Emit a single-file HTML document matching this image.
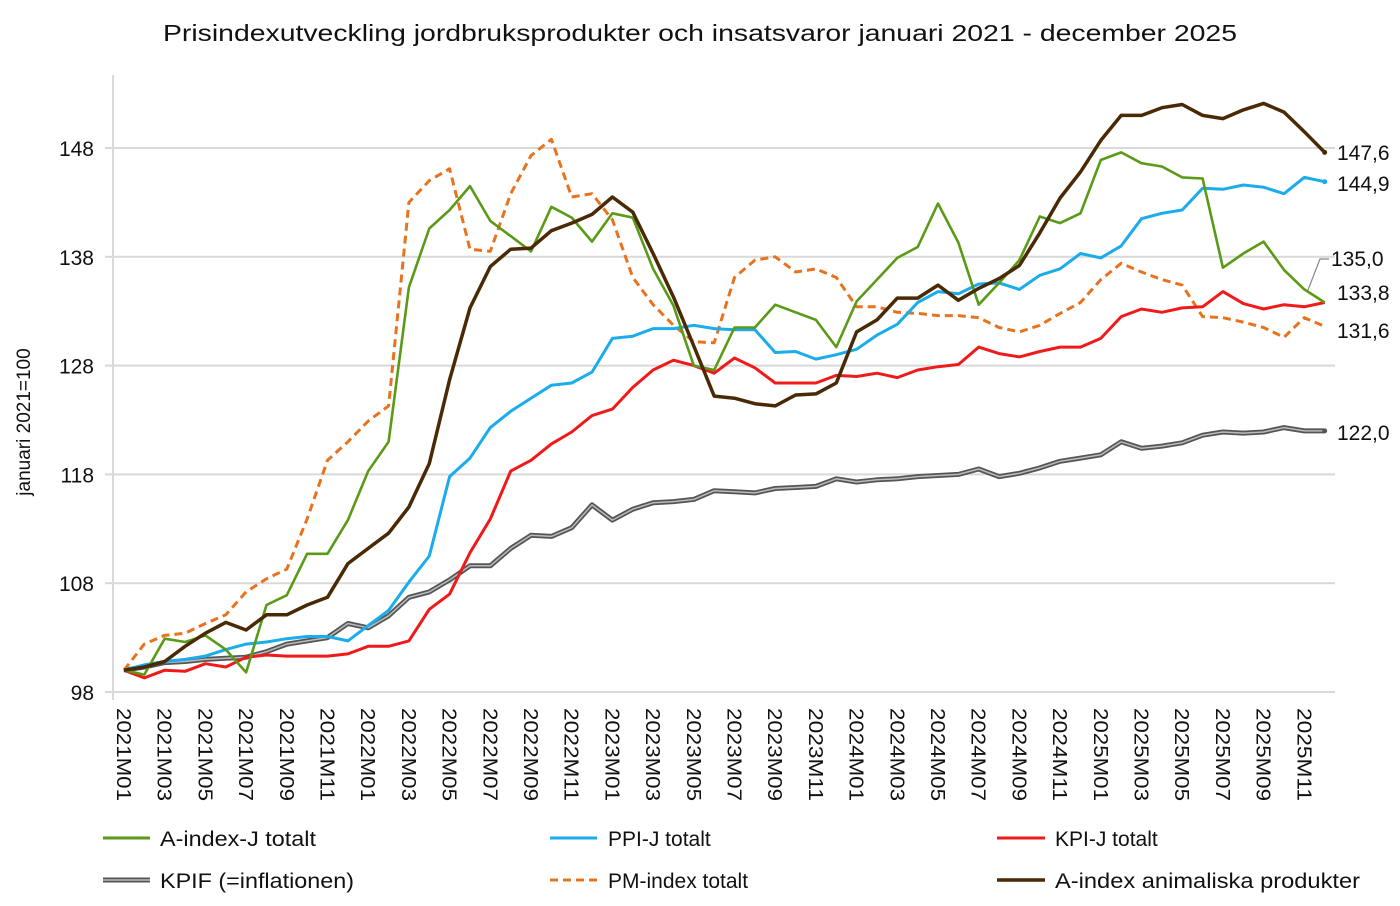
<!DOCTYPE html>
<html><head><meta charset="utf-8"><style>
body{margin:0;background:#fff;width:1400px;height:901px;overflow:hidden}
svg text{font-family:"Liberation Sans",Arial,sans-serif;fill:#111}
</style></head><body>
<svg id="s" width="1400" height="901" xmlns="http://www.w3.org/2000/svg">
<text x="700" y="41" text-anchor="middle" font-size="23" textLength="1074" lengthAdjust="spacingAndGlyphs">Prisindexutveckling jordbruksprodukter och insatsvaror januari 2021 - december 2025</text>
<g id="grid"></g>
<line x1="113" y1="75" x2="113" y2="700" stroke="#d9d9d9" stroke-width="2"/>
<text transform="translate(30,422) rotate(-90)" text-anchor="middle" font-size="19">januari 2021=100</text>
<g id="xl"></g>
<g id="lines"></g>
<g font-size="21">
<text x="1337" y="160">147,6</text>
<text x="1337" y="191">144,9</text>
<text x="1331" y="266">135,0</text>
<text x="1337" y="300">133,8</text>
<text x="1337" y="338">131,6</text>
<text x="1337" y="440">122,0</text>
</g>
<polyline points="1308,290 1320,259 1329,259" fill="none" stroke="#888" stroke-width="1.2"/>
<g font-size="21">
<line x1="103" y1="838" x2="150" y2="838" stroke="#5a9a17" stroke-width="3"/><text x="160" y="846" textLength="156" lengthAdjust="spacingAndGlyphs">A-index-J totalt</text>
<line x1="550" y1="838" x2="597" y2="838" stroke="#1aaceb" stroke-width="3"/><text x="608" y="846">PPI-J totalt</text>
<line x1="997" y1="838" x2="1045" y2="838" stroke="#f01a1a" stroke-width="3"/><text x="1055" y="846">KPI-J totalt</text>
<line x1="103" y1="880" x2="150" y2="880" stroke="#555" stroke-width="5"/><line x1="103" y1="880" x2="150" y2="880" stroke="#bbb" stroke-width="1.5"/><text x="160" y="888" textLength="194" lengthAdjust="spacingAndGlyphs">KPIF (=inflationen)</text>
<line x1="550" y1="880" x2="597" y2="880" stroke="#e8731f" stroke-width="3" stroke-dasharray="8,5"/><text x="608" y="888">PM-index totalt</text>
<line x1="997" y1="880" x2="1045" y2="880" stroke="#4a2a05" stroke-width="3.5"/><text x="1055" y="888" textLength="305" lengthAdjust="spacingAndGlyphs">A-index animaliska produkter</text>
</g>
</svg>
<script>
var NS="http://www.w3.org/2000/svg";
function Y(v){return 148+(148-v)*10.88;}
function X(i){return 124+20.35*i;}
var g=document.getElementById('grid');
[148,138,128,118,108,98].forEach(function(v){
 var l=document.createElementNS(NS,'line');l.setAttribute('x1',105);l.setAttribute('x2',1335);
 l.setAttribute('y1',Y(v));l.setAttribute('y2',Y(v));l.setAttribute('stroke','#d9d9d9');l.setAttribute('stroke-width','2');g.appendChild(l);
 var t=document.createElementNS(NS,'text');t.setAttribute('x',94);t.setAttribute('y',Y(v)+8);t.setAttribute('text-anchor','end');t.setAttribute('font-size','21');t.textContent=v;g.appendChild(t);
});
var xl=document.getElementById('xl');
for(var i=0;i<60;i+=2){var yr=2021+Math.floor(i/12),m=i%12+1;
 var t=document.createElementNS(NS,'text');t.setAttribute('transform','translate('+(X(i)-7)+',708) rotate(90)');
 t.setAttribute('font-size','20');t.setAttribute('textLength','93');t.setAttribute('lengthAdjust','spacingAndGlyphs');t.textContent=yr+'M'+(m<10?'0':'')+m;xl.appendChild(t);}
var D={
gray:[100,100.3,100.7,100.8,101,101.1,101.2,101.7,102.4,102.7,103,104.3,103.9,105,106.7,107.2,108.3,109.6,109.6,111.2,112.4,112.3,113.1,115.2,113.8,114.8,115.4,115.5,115.7,116.5,116.4,116.3,116.7,116.8,116.9,117.6,117.3,117.5,117.6,117.8,117.9,118,118.5,117.8,118.1,118.6,119.2,119.5,119.8,121,120.4,120.6,120.9,121.6,121.9,121.8,121.9,122.3,122,122],
orange:[100,102.4,103.2,103.4,104.3,105.1,107.2,108.4,109.3,113.9,119.3,121,122.9,124.3,143,145,146.1,138.7,138.5,143.8,147.3,148.8,143.5,143.8,141.4,136.1,133.6,131.7,130.2,130.1,136.1,137.7,138,136.6,136.9,136.1,133.4,133.4,132.9,132.8,132.6,132.6,132.4,131.5,131.1,131.7,132.8,133.8,135.9,137.4,136.6,135.9,135.4,132.5,132.4,132,131.5,130.6,132.4,131.6],
green:[100,99.6,102.9,102.6,103.2,101.9,99.8,106,106.9,110.7,110.7,113.8,118.3,121,135.2,140.6,142.3,144.5,141.3,139.9,138.5,142.6,141.6,139.4,142,141.6,136.9,133.5,128,127.6,131.5,131.5,133.6,132.9,132.2,129.7,133.9,135.9,137.9,138.9,142.9,139.3,133.6,135.6,137.7,141.7,141.1,142,146.9,147.6,146.6,146.3,145.3,145.2,137,138.3,139.4,136.8,135,133.8],
blue:[100,100.5,100.8,101,101.3,101.9,102.4,102.6,102.9,103.1,103.1,102.7,104.1,105.5,108.1,110.5,117.8,119.5,122.3,123.8,125,126.2,126.4,127.4,130.5,130.7,131.4,131.4,131.7,131.4,131.3,131.3,129.2,129.3,128.6,129,129.5,130.8,131.8,133.8,134.8,134.6,135.5,135.6,135,136.3,136.9,138.3,137.9,139,141.5,142,142.3,144.3,144.2,144.6,144.4,143.8,145.3,144.9],
red:[100,99.3,100,99.9,100.6,100.3,101.2,101.4,101.3,101.3,101.3,101.5,102.2,102.2,102.7,105.6,107,110.8,113.9,118.3,119.3,120.8,121.9,123.4,124,126,127.6,128.5,128,127.3,128.7,127.8,126.4,126.4,126.4,127.1,127,127.3,126.9,127.6,127.9,128.1,129.7,129.1,128.8,129.3,129.7,129.7,130.5,132.5,133.2,132.9,133.3,133.4,134.8,133.7,133.2,133.6,133.4,133.8],
brown:[100,100.3,100.8,102.2,103.4,104.4,103.7,105.1,105.1,106,106.7,109.8,111.2,112.6,115,119,126.7,133.3,137.1,138.7,138.8,140.4,141.1,141.9,143.5,142.1,138.3,134.3,129.8,125.2,125,124.5,124.3,125.3,125.4,126.4,131.1,132.2,134.2,134.2,135.4,134,135.1,136,137.2,140.2,143.4,145.8,148.7,151,151,151.7,152,151,150.7,151.5,152.1,151.3,149.5,147.6]};
var L=document.getElementById('lines');
function pl(d,st,w,da){var p=document.createElementNS(NS,'polyline');p.setAttribute('points',d.map(function(v,i){return X(i).toFixed(1)+','+Y(v).toFixed(1)}).join(' '));
 p.setAttribute('fill','none');p.setAttribute('stroke',st);p.setAttribute('stroke-width',w);p.setAttribute('stroke-linejoin','round');if(da)p.setAttribute('stroke-dasharray',da);L.appendChild(p);}
pl(D.gray,'#555',5);pl(D.gray,'#bbb',1.5);
pl(D.orange,'#e8731f',3,'8,5');
pl(D.blue,'#1aaceb',3);
pl(D.red,'#f01a1a',3);
pl(D.green,'#5a9a17',2.6);
pl(D.brown,'#4a2a05',3.5);
[[D.brown,'#4a2a05'],[D.blue,'#1aaceb'],[D.gray,'#555']].forEach(function(a){var c=document.createElementNS(NS,'circle');c.setAttribute('cx',X(59));c.setAttribute('cy',Y(a[0][59]));c.setAttribute('r',2.5);c.setAttribute('fill',a[1]);L.appendChild(c);});
</script>
</body></html>
